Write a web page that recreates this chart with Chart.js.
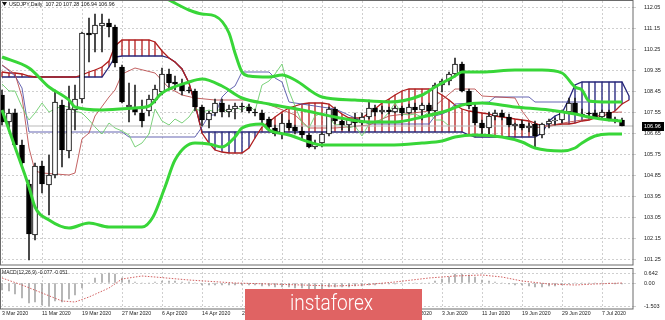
<!DOCTYPE html>
<html>
<head>
<meta charset="utf-8">
<script src="https://cdn.jsdelivr.net/npm/chart.js@4.4.1/dist/chart.umd.min.js"></script>
<style>
  html, body { margin: 0; padding: 0; background: #fff; }
  #wrap { position: relative; width: 665px; height: 320px; overflow: hidden; }
  #priceChart { position: absolute; left: 0; top: 0; }
  #macdChart { position: absolute; left: 0; top: 266px; }
</style>
</head>
<body>
<div id="wrap">
  <canvas id="priceChart" width="665" height="268"></canvas>
  <canvas id="macdChart" width="665" height="54"></canvas>
</div>
<script>
// USDJPY Daily — candles + Ichimoku + Bollinger, MACD below

const dateLabels = ["3 Mar 2020", "11 Mar 2020", "19 Mar 2020", "27 Mar 2020", "6 Apr 2020", "14 Apr 2020",
  "22 Apr 2020", "30 Apr 2020", "8 May 2020", "18 May 2020", "26 May 2020", "3 Jun 2020",
  "11 Jun 2020", "19 Jun 2020", "29 Jun 2020", "7 Jul 2020"];
const labelStep = 6; // one date label every 6 bars

// OHLC, bar 0 = 3 Mar 2020, bar 93 = 10 Jul 2020
const opens = [108.30,107.12,107.50,106.13,104.46,102.28,105.24,104.42,104.85,107.85,
  105.88,107.64,108.10,110.95,110.89,111.24,111.36,111.20,109.48,107.78,
  107.76,107.50,107.60,108.06,108.40,109.20,108.82,108.74,108.50,108.46,
  107.75,107.22,107.50,107.93,107.55,107.68,107.82,107.75,107.57,107.50,
  107.25,106.88,106.62,107.10,106.90,106.72,106.56,106.07,106.20,106.60,
  107.70,107.15,107.00,107.25,107.10,107.33,107.72,107.55,107.62,107.57,
  107.72,107.52,107.75,107.65,107.85,107.60,108.70,108.90,109.18,109.62,
  108.44,107.78,107.10,106.86,107.38,107.52,107.32,106.96,107.04,106.88,
  107.05,106.55,107.05,107.15,107.20,107.55,107.92,107.48,107.50,107.50,
  107.35,107.55,107.25,107.20];
const highs = [108.50,107.70,107.70,106.35,104.63,105.36,105.45,105.70,108.50,108.06,
  108.66,108.70,111.00,111.58,111.75,111.75,111.54,111.30,109.56,108.79,
  108.70,108.06,108.28,108.70,109.43,109.38,109.10,108.95,108.62,108.55,
  107.85,107.60,108.10,108.10,107.85,107.95,107.95,107.90,107.70,107.65,
  107.35,107.00,107.48,107.20,107.00,106.90,106.65,106.35,106.70,107.75,
  107.75,107.25,107.30,107.50,107.50,108.05,107.85,107.80,107.75,107.80,
  107.80,107.90,107.95,107.95,107.95,108.80,108.95,109.25,109.86,109.70,
  108.55,107.95,107.20,107.55,107.65,107.65,107.45,107.10,107.20,107.10,
  107.15,107.10,107.25,107.30,107.65,108.15,108.15,107.70,107.55,107.65,
  107.65,107.62,107.35,107.28];
const lows = [107.00,106.85,106.05,105.18,101.20,102.06,104.08,103.13,104.70,105.20,
  105.58,106.80,107.95,109.70,110.12,110.12,110.76,109.50,107.93,107.12,
  107.42,106.90,107.40,107.95,108.30,108.50,108.50,108.30,108.35,107.60,
  106.95,106.85,107.40,107.35,107.35,107.25,107.55,107.50,107.40,107.05,
  106.75,106.50,106.40,106.80,106.60,106.40,105.99,105.95,106.05,106.50,
  107.05,106.80,106.75,106.90,107.00,107.25,107.40,107.45,107.45,107.50,
  107.40,107.45,107.55,107.20,107.45,107.55,108.40,108.70,109.05,108.40,
  107.70,107.00,106.60,106.60,107.20,107.20,106.90,106.80,106.80,106.70,
  106.07,106.45,106.85,107.00,107.10,107.50,107.45,107.40,107.40,107.30,
  107.30,107.15,107.10,106.94];
const closes = [107.12,107.50,106.13,105.36,102.30,105.24,104.46,104.85,107.98,105.92,
  107.68,108.10,110.93,110.85,111.28,111.36,111.20,109.65,107.98,107.86,
  107.55,107.16,108.10,108.52,109.20,108.78,108.74,108.45,108.45,107.75,
  107.22,107.50,107.93,107.55,107.68,107.82,107.75,107.60,107.50,107.22,
  106.90,106.62,107.10,106.88,106.72,106.55,106.07,106.20,106.60,107.70,
  107.15,107.00,107.25,107.10,107.33,107.72,107.55,107.62,107.57,107.72,
  107.52,107.75,107.65,107.85,107.60,108.70,108.90,109.18,109.62,108.44,
  107.82,107.10,106.86,107.38,107.52,107.32,106.98,107.04,106.88,106.96,
  106.50,107.05,107.15,107.22,107.55,107.92,107.48,107.42,107.45,107.35,
  107.55,107.22,107.20,106.96];
const lastPrice = 106.96;
const chikouShift = 26;

// Ichimoku cloud edges, one value per bar (bars 0..94, cloud runs past the last candle)
const spanA = [109.26,109.24,109.22,109.16,109.08,109.05,109.05,109.05,109.05,109.05,
  109.05,109.05,109.12,109.25,109.33,109.48,109.75,110.40,110.62,110.62,
  110.62,110.64,110.64,110.55,110.15,109.85,109.70,109.40,108.80,107.90,
  106.65,106.20,105.90,105.82,105.80,105.80,105.80,106.00,106.45,106.90,
  107.12,107.35,107.55,107.72,107.82,107.88,107.92,107.94,107.93,107.90,
  107.70,107.45,107.30,107.29,107.29,107.52,107.70,107.92,108.10,108.30,
  108.45,108.52,108.53,108.53,108.53,108.45,108.28,108.05,107.85,107.70,
  107.58,107.53,107.51,107.45,107.36,107.32,107.28,107.25,107.22,107.16,
  107.08,106.95,106.95,106.98,107.02,107.05,107.08,107.15,107.22,107.30,
  107.40,107.48,107.58,107.90,108.05];
const spanB = [109.05,109.05,109.05,109.05,109.05,109.05,109.05,109.05,109.05,109.05,
  109.05,109.05,109.05,109.05,109.05,109.05,109.50,109.90,109.95,109.95,
  109.95,109.95,109.95,109.95,109.95,109.85,109.70,109.40,108.80,107.90,
  106.69,106.69,106.69,106.69,106.69,106.69,106.69,106.69,106.69,106.69,
  106.69,106.69,106.69,106.69,106.69,106.69,106.69,106.69,106.69,106.69,
  106.69,106.69,106.69,106.69,106.69,106.69,106.69,106.69,106.69,106.69,
  106.69,106.69,106.69,106.69,106.69,106.69,106.69,106.69,106.69,106.69,
  106.58,106.48,106.48,106.48,106.48,106.48,106.48,106.48,106.48,106.48,
  106.48,106.65,107.15,107.36,107.50,108.10,108.70,108.84,108.84,108.84,
  108.84,108.84,108.84,108.84,108.25];

// [bar, value] vertices
const tenkan = [[0,109.56],[2,109.2],[3,108.2],[4,106.0],[5,105.0],[6,104.94],[10,104.85],[11,104.94],
  [12,106.4],[13,106.65],[14,107.4],[16,108.2],[17,108.5],[18,109.2],[20,109.44],[23,109.22],
  [25,108.6],[27,108.3],[29,108.15],[32,108.06],[37,108.06],[39,107.98],[41,107.76],[44,107.42],
  [46,106.85],[50,106.88],[55,107.0],[58,107.4],[64,107.58],[66,108.08],[68,108.53],[71,108.53],
  [72,108.23],[77,108.15],[78,107.58],[80,106.86],[85,107.11],[89,107.3],[90,107.5],[93,107.55]];
const kijun = [[0,109.56],[2,109.1],[3,108.6],[4,106.69],[18,106.69],[19,106.48],[29,106.48],
  [30,106.9],[31,107.44],[32,107.44],[33,108.2],[34,108.48],[35,108.67],[36,109.28],[40,109.28],
  [41,109.02],[42,108.85],[43,107.98],[44,107.92],[50,107.67],[51,107.53],[53,107.28],[55,107.03],
  [64,107.03],[65,107.38],[66,107.45],[67,107.6],[68,107.9],[73,107.96],[74,108.18],[79,108.18],
  [80,107.97],[93,107.97]];
const bbUpper = [[0,112.7],[6,113.3],[12,113.7],[16,113.6],[20,113.05],[23,112.65],[25,112.35],
  [28,111.92],[30,111.75],[32,111.68],[34,110.95],[35,110.1],[36,109.26],[37,109.09],[40,109.05],
  [42,109.14],[44,108.92],[48,108.19],[53,108.06],[58,107.98],[63,108.28],[65,108.62],[68,109.09],
  [69,109.26],[72,109.26],[77,109.35],[81,109.35],[84,109.22],[86,108.62],[87,108.49],[88,108.02],
  [91,107.98],[93,107.98]];
const bbMiddle = [[0,109.9],[4,109.44],[7,108.62],[10,108.06],[11,107.76],[15,107.64],[20,107.72],
  [22,107.81],[24,108.36],[28,108.84],[30,108.96],[33,108.66],[36,108.15],[40,107.89],[45,107.64],
  [50,107.34],[55,107.12],[59,107.12],[63,107.34],[67,107.64],[69,107.85],[72,107.94],[77,107.76],
  [82,107.64],[86,107.46],[88,107.34],[91,107.21],[93,107.16]];
const bbLower = [[0,107.64],[2,106.05],[4,104.33],[5,103.48],[7,102.92],[10,102.58],[13,102.79],
  [16,102.62],[21,102.62],[22.7,103.05],[24.4,104.33],[26,105.49],[29,106.22],[31,106.18],[33,106.05],
  [35,106.48],[36,106.86],[39,107.04],[40,106.78],[43,106.56],[46,106.26],[48,106.13],[58,106.13],
  [63,106.22],[66,106.31],[68,106.48],[71,106.56],[75,106.48],[78,106.26],[80,106.01],[84,105.88],
  [86,106.01],[87,106.22],[89,106.52],[91,106.61],[93,106.61]];

// MACD(12,26,9): main as histogram (one per bar), signal as dotted line
const macdMain = [-0.45,-0.55,-0.75,-0.98,-1.30,-1.25,-1.40,-1.503,-1.15,-1.25,
  -1.05,-0.80,-0.35,0.00,0.30,0.55,0.642,0.55,0.30,0.15,
  0.05,-0.05,0.00,0.05,0.10,0.12,0.10,0.05,0.02,-0.05,
  -0.12,-0.15,-0.15,-0.15,-0.15,-0.14,-0.14,-0.15,-0.16,-0.18,
  -0.22,-0.28,-0.28,-0.30,-0.32,-0.35,-0.40,-0.42,-0.40,-0.30,
  -0.28,-0.27,-0.25,-0.24,-0.20,-0.14,-0.12,-0.10,-0.08,-0.06,
  -0.05,-0.03,-0.02,0.00,0.00,0.10,0.22,0.35,0.55,0.58,
  0.50,0.35,0.20,0.12,0.05,-0.02,-0.08,-0.12,-0.15,-0.18,
  -0.25,-0.25,-0.22,-0.20,-0.15,-0.08,-0.05,-0.04,-0.03,-0.04,
  -0.03,-0.05,-0.06,-0.077];
const macdSignal = [[0,0.30],[3,-0.15],[6,-0.66],[9,-1.17],[11,-1.24],[13,-0.92],[16,-0.34],[18,0.24],
  [21,0.43],[23,0.37],[28,0.17],[35,-0.02],[40,-0.08],[50,-0.21],[54,-0.15],[59,0.04],[64,0.30],
  [68,0.43],[72,0.49],[75,0.37],[78,0.11],[82,-0.08],[86,-0.15],[89,-0.08],[93,-0.051]];

const priceTicks = [112.05,111.15,110.25,109.35,108.45,107.55,106.65,105.75,104.85,103.95,103.05,102.15,101.25];
const macdTicks = [0.642, 0, -1.503];
const macdTickText = ["0.642", "0.00", "-1.503"];

// visible window in bar units
const xMin = -0.3, xMax = 94.65;
const priceMin = 100.99, priceMax = 112.31;
const macdMin = -1.686, macdMax = 0.942;

Chart.defaults.font.family = '"Liberation Sans", Arial, sans-serif';
Chart.defaults.color = "#222";

const gridColor = "#cfcfcf";
const pairs = list => list.map(([x, y]) => ({ x, y }));
const series = list => list.map((y, x) => ({ x, y }));

function lineSet(label, data, color, width, order, extra) {
  return Object.assign({
    type: "line", label, data, borderColor: color, borderWidth: width,
    pointRadius: 0, fill: false, tension: 0, order, clip: 0
  }, extra || {});
}

function barSet(label, data, maxW, order, extra) {
  return Object.assign({
    type: "bar", label, data, grouped: false, maxBarThickness: maxW,
    categoryPercentage: 1, barPercentage: 1, order, clip: 0
  }, extra || {});
}

function dateAxis(showLabels) {
  return {
    type: "linear", min: xMin, max: xMax, offset: false, alignToPixels: true,
    afterBuildTicks: s => { s.ticks = dateLabels.map((_, k) => ({ value: k * labelStep })); },
    ticks: {
      display: showLabels, autoSkip: false, maxRotation: 0, align: "start", padding: 1.5,
      font: { size: 5.2 }, color: "#222",
      callback: v => dateLabels[Math.round(v / labelStep)]
    },
    grid: { color: gridColor, drawTicks: false, offset: false },
    border: { display: false, dash: [2, 2] },
    afterFit: s => { s.paddingLeft = 0; s.paddingRight = 0; if (showLabels) s.height = 11; }
  };
}

function valueAxis(min, max, tickValues, fmt) {
  return {
    type: "linear", position: "right", min, max, offset: false, alignToPixels: true,
    afterBuildTicks: s => { s.ticks = tickValues.map(v => ({ value: v })); },
    ticks: { autoSkip: false, padding: 8, font: { size: 5.5 }, color: "#222", callback: fmt },
    grid: { color: gridColor, tickLength: 3, offset: false },
    border: { display: false, dash: [2, 2] },
    afterFit: s => { s.width = 32; s.paddingTop = 0; s.paddingBottom = 0; }
  };
}

// frame, caption and last-price tag for the price panel
const priceDecor = {
  id: "priceDecor",
  afterDraw(chart) {
    const { ctx, chartArea: a, scales } = chart;
    ctx.save();
    ctx.strokeStyle = "#6a6a6a";
    ctx.lineWidth = 1;
    ctx.strokeRect(a.left + 0.5, a.top - 0.5, a.right - a.left - 0.5, a.bottom - a.top + 0.5);

    ctx.fillStyle = "#111";
    ctx.beginPath();
    ctx.moveTo(2, 2); ctx.lineTo(7, 2); ctx.lineTo(4.5, 6); ctx.closePath();
    ctx.fill();
    ctx.font = '5.3px "Liberation Sans", Arial, sans-serif';
    ctx.textBaseline = "middle";
    ctx.fillText("USDJPY,Daily  107.20 107.28 106.94 106.96", 9, 4.5);

    const yp = scales.y.getPixelForValue(lastPrice);
    ctx.fillStyle = "#000";
    ctx.fillRect(a.right + 9, Math.round(yp) - 4, 22, 9);
    ctx.fillStyle = "#fff";
    ctx.font = '5.5px "Liberation Sans", Arial, sans-serif';
    ctx.fillText(lastPrice.toFixed(2), a.right + 11, yp + 0.5);
    ctx.restore();
  }
};

// frame, indicator caption and the watermark badge for the MACD panel
const macdDecor = {
  id: "macdDecor",
  afterDraw(chart) {
    const { ctx, chartArea: a } = chart;
    ctx.save();
    ctx.strokeStyle = "#6a6a6a";
    ctx.lineWidth = 1;
    ctx.strokeRect(a.left + 0.5, a.top + 0.5, a.right - a.left - 0.5, a.bottom - a.top - 0.5);
    ctx.fillStyle = "#222";
    ctx.font = '5px "Liberation Sans", Arial, sans-serif';
    ctx.textBaseline = "middle";
    ctx.fillText("MACD(12,26,9) -0.077 -0.051", 2, 7);

    ctx.fillStyle = "#e06363";
    ctx.fillRect(245, 23, 177, 31);
    ctx.fillStyle = "#fff";
    ctx.font = '300 22px Roboto, "Open Sans", sans-serif';
    ctx.textBaseline = "alphabetic";
    ctx.fillText("instaforex", 290, 44, 83);
    ctx.restore();
  }
};

const hatchUp = "rgba(185,45,45,0.85)";
const hatchDown = "rgba(45,45,130,0.85)";

new Chart(document.getElementById("priceChart"), {
  type: "line",
  data: {
    datasets: [
      barSet("Kumo", spanA.map((v, i) => ({ x: i, y: [v, spanB[i]] })), 1, 9, {
        backgroundColor: c => (spanA[c.dataIndex] >= spanB[c.dataIndex] ? hatchUp : hatchDown)
      }),
      lineSet("Senkou Span A", series(spanA), "#b01e1e", 1.3, 8),
      lineSet("Senkou Span B", series(spanB), "#27277a", 1.3, 8),
      lineSet("Chikou Span", series(closes.slice(chikouShift)), "rgba(110,205,110,0.9)", 1, 7),
      lineSet("Tenkan-sen", pairs(tenkan), "rgba(185,70,70,0.85)", 1, 7),
      lineSet("Kijun-sen", pairs(kijun), "rgba(85,85,170,0.9)", 1, 7),
      lineSet("Bid", [{ x: xMin, y: lastPrice }, { x: xMax, y: lastPrice }], "#b9b9b9", 1, 6),
      barSet("Wicks", closes.map((_, i) => ({ x: i, y: [lows[i], highs[i]] })), 1, 5, {
        backgroundColor: "#262626"
      }),
      barSet("Bodies", closes.map((c, i) => ({ x: i, y: [opens[i], c] })), 5, 4, {
        backgroundColor: c => (closes[c.dataIndex] >= opens[c.dataIndex] ? "#ffffff" : "#000000"),
        borderColor: "#000", borderWidth: 1, borderSkipped: false, minBarLength: 1
      }),
      lineSet("BB upper", pairs(bbUpper), "#38d638", 3, 1, { cubicInterpolationMode: "monotone" }),
      lineSet("BB middle", pairs(bbMiddle), "#38d638", 3, 1, { cubicInterpolationMode: "monotone" }),
      lineSet("BB lower", pairs(bbLower), "#38d638", 3, 1, { cubicInterpolationMode: "monotone" })
    ]
  },
  options: {
    responsive: false,
    animation: false,
    devicePixelRatio: 1,
    layout: { padding: { top: 1, bottom: 3, left: 0, right: 0 } },
    plugins: { legend: { display: false }, tooltip: { enabled: false } },
    scales: {
      x: dateAxis(false),
      y: valueAxis(priceMin, priceMax, priceTicks, v => v.toFixed(2))
    }
  },
  plugins: [priceDecor]
});

new Chart(document.getElementById("macdChart"), {
  type: "line",
  data: {
    datasets: [
      barSet("MACD", series(macdMain), 1, 2, { backgroundColor: "#a8a8a8" }),
      lineSet("Signal", pairs(macdSignal), "rgba(205,80,80,0.9)", 1, 1, { borderDash: [1.5, 1.5] })
    ]
  },
  options: {
    responsive: false,
    animation: false,
    devicePixelRatio: 1,
    layout: { padding: { top: 2, bottom: 0, left: 0, right: 0 } },
    plugins: { legend: { display: false }, tooltip: { enabled: false } },
    scales: {
      x: dateAxis(true),
      y: valueAxis(macdMin, macdMax, macdTicks, (v, i) => macdTickText[i])
    }
  },
  plugins: [macdDecor]
});
</script>
</body>
</html>
